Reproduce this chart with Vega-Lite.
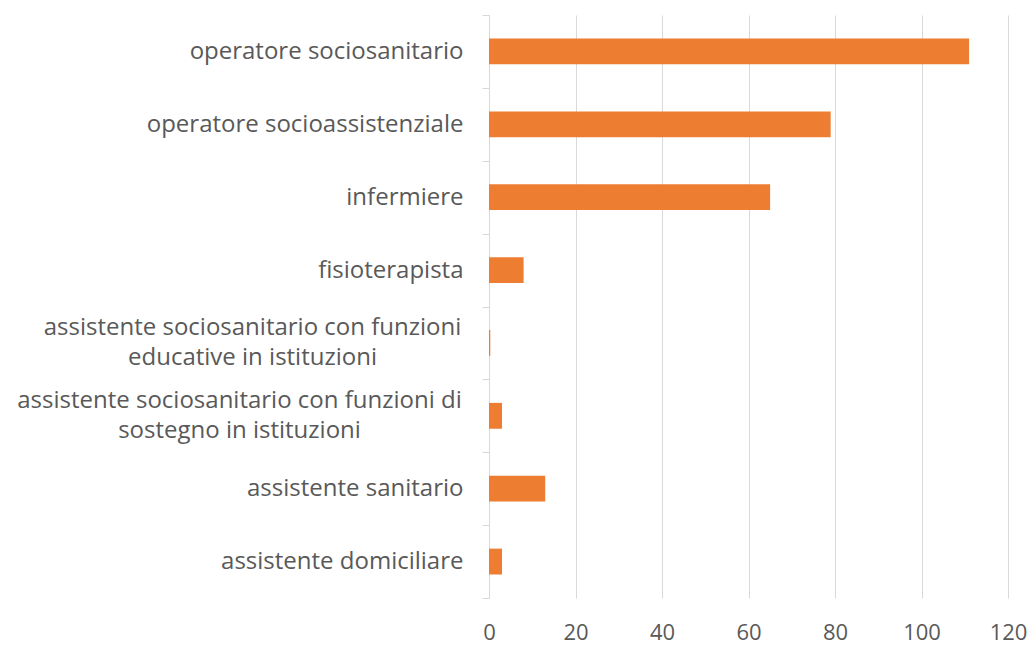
{
  "$schema": "https://vega.github.io/schema/vega-lite/v6.json",
  "width": 519,
  "height": 583,
  "autosize": "none",
  "padding": {"left": 489, "top": 15, "right": 26, "bottom": 48},
  "background": "white",
  "config": {"view": {"stroke": null}, "font": "Open Sans"},
  "data": {"values": [
    {"professione": "operatore sociosanitario", "valore": 111},
    {"professione": "operatore socioassistenziale", "valore": 79},
    {"professione": "infermiere", "valore": 65},
    {"professione": "fisioterapista", "valore": 8},
    {"professione": "assistente sociosanitario con funzioni educative in istituzioni", "valore": 0.3},
    {"professione": "assistente sociosanitario con funzioni di sostegno in istituzioni", "valore": 3},
    {"professione": "assistente sanitario", "valore": 13},
    {"professione": "assistente domiciliare", "valore": 3}
  ]},
  "mark": {"type": "bar", "color": "#ED7D31", "height": {"band": 0.355}},
  "encoding": {
    "y": {
      "field": "professione", "type": "nominal", "sort": null,
      "scale": {"paddingInner": 0, "paddingOuter": 0},
      "axis": {
        "title": null,
        "domainColor": "#d9d9d9", "domainWidth": 1,
        "tickColor": "#d9d9d9", "tickSize": 7, "tickBand": "extent",
        "grid": false,
        "labelFont": "Open Sans", "labelFontSize": 24, "labelColor": "#595959",
        "labelLineHeight": 30,
        "labelLimit": 0,
        "labelPadding": 19,
        "labelExpr": "datum.value == 'assistente sociosanitario con funzioni educative in istituzioni' ? ['assistente sociosanitario con funzioni', 'educative in istituzioni'] : datum.value == 'assistente sociosanitario con funzioni di sostegno in istituzioni' ? ['assistente sociosanitario con funzioni di', 'sostegno in istituzioni'] : datum.value",
        "encoding": {
          "labels": {
            "align": {"value": {"expr": "datum && (datum.value == 'assistente sociosanitario con funzioni educative in istituzioni' || datum.value == 'assistente sociosanitario con funzioni di sostegno in istituzioni') ? 'center' : 'right'"}},
            "dx": {"value": {"expr": "datum && datum.value == 'assistente sociosanitario con funzioni educative in istituzioni' ? -211 : datum && datum.value == 'assistente sociosanitario con funzioni di sostegno in istituzioni' ? -224 : 0"}},
            "dy": {"value": {"expr": "datum && (datum.value == 'assistente sociosanitario con funzioni educative in istituzioni' || datum.value == 'assistente sociosanitario con funzioni di sostegno in istituzioni') ? -15 : 0"}}
          }
        }
      }
    },
    "x": {
      "field": "valore", "type": "quantitative",
      "scale": {"domain": [0, 120], "nice": false},
      "axis": {
        "title": null, "values": [0, 20, 40, 60, 80, 100, 120],
        "domain": false, "ticks": false,
        "grid": true, "gridColor": "#d9d9d9", "gridWidth": 1,
        "labelFont": "Open Sans", "labelFontSize": 22, "labelColor": "#595959",
        "labelPadding": 24, "labelFlush": false
      }
    }
  }
}
